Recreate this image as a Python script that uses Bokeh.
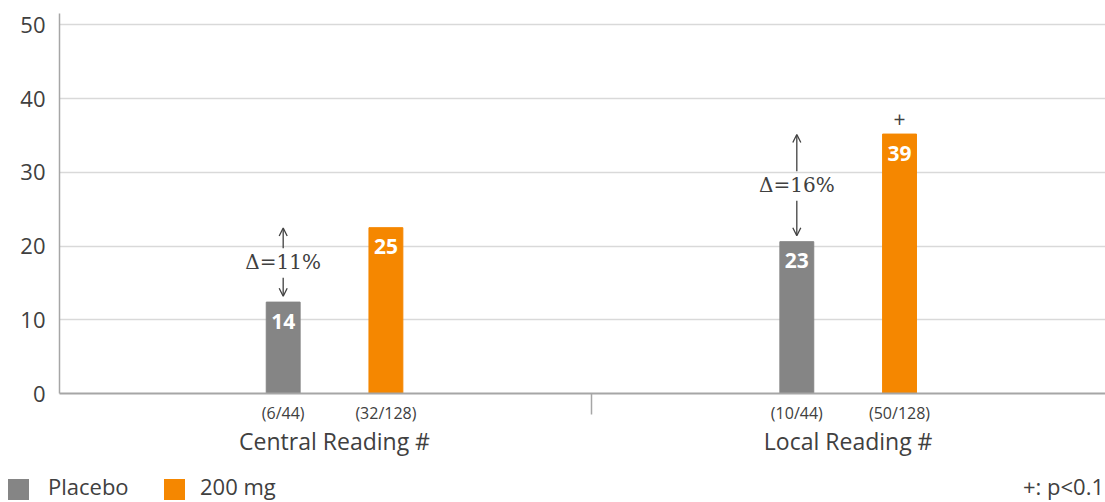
from bokeh.plotting import figure
from bokeh.models import Range1d, FixedTicker, LinearAxis, Arrow, OpenHead, ColumnDataSource, Div
from bokeh.layouts import column
from bokeh.core.properties import value
from bokeh.embed import file_html
from bokeh.resources import INLINE

# ---- data ----
categories = ["Central Reading #", "Local Reading #"]
placebo_vals = [12.4, 20.6]
dose_vals = [22.5, 35.2]
placebo_labels = ["14", "23"]
dose_labels = ["25", "39"]
placebo_n = ["(6/44)", "(10/44)"]
dose_n = ["(32/128)", "(50/128)"]
delta_labels = ["\u0394=11%", "\u0394=16%"]
sig_marks = ["", "+"]
y_ticks = [0, 10, 20, 30, 40, 50]
series_names = ["Placebo", "200 mg"]
footnote = "+: p<0.1"

GREY = "#858585"
ORANGE = "#F58700"
TXT = "#404040"
AXC = "#a6a6a6"
FONT = value("Open Sans")

# group layout (group centres at 0, 10; bars at -1 / +1)
group_x = [10 * i for i in range(len(categories))]
placebo_x = [g - 1 for g in group_x]
dose_x = [g + 1 for g in group_x]

p = figure(frame_width=1046, frame_height=380,
           x_range=Range1d(-5.355, 15.01), y_range=Range1d(0, 51.56),
           output_backend="svg", toolbar_location=None,
           min_border_left=59, min_border_right=0, min_border_top=13, min_border_bottom=77)
p.outline_line_color = None
p.xgrid.visible = False
p.ygrid.grid_line_color = "#d9d9d9"
p.ygrid.grid_line_width = 1.5
p.ygrid.ticker = FixedTicker(ticks=y_ticks)

ya = p.yaxis[0]
ya.ticker = FixedTicker(ticks=y_ticks)
ya.major_tick_out = 0
ya.major_tick_in = 0
ya.minor_tick_out = 0
ya.minor_tick_in = 0
ya.axis_line_color = AXC
ya.axis_line_width = 1.5
ya.major_label_text_font = "Open Sans"
ya.major_label_text_font_size = "22px"
ya.major_label_text_color = TXT
ya.major_label_standoff = 14

xa = p.xaxis[0]
bar_ticks = placebo_x + dose_x
overrides = {}
for i in range(len(categories)):
    overrides[placebo_x[i]] = placebo_n[i]
    overrides[dose_x[i]] = dose_n[i]
xa.ticker = FixedTicker(ticks=bar_ticks, minor_ticks=[5])
xa.major_label_overrides = overrides
xa.major_tick_out = 0
xa.major_tick_in = 0
xa.minor_tick_out = 21
xa.minor_tick_in = 0
xa.minor_tick_line_color = AXC
xa.minor_tick_line_width = 1.5
xa.axis_line_color = AXC
xa.axis_line_width = 2
xa.major_label_text_font = "Open Sans"
xa.major_label_text_font_size = "16px"
xa.major_label_text_color = TXT
xa.major_label_standoff = -13

xa2 = LinearAxis(ticker=FixedTicker(ticks=group_x),
                 major_label_overrides={g: c for g, c in zip(group_x, categories)})
xa2.axis_line_color = None
xa2.major_tick_line_color = None
xa2.minor_tick_line_color = None
xa2.major_tick_out = 0
xa2.major_label_text_font = "Open Sans"
xa2.major_label_text_font_size = "23px"
xa2.major_label_text_color = TXT
xa2.major_label_standoff = -2
p.add_layout(xa2, "below")

src = ColumnDataSource(dict(
    px=placebo_x, dx=dose_x, pv=placebo_vals, dv=dose_vals,
    pl=placebo_labels, dl=dose_labels, delta=delta_labels, sig=sig_marks,
    ty=[(a + b) / 2 + 0.45 for a, b in zip(placebo_vals, dose_vals)],
))
src.data["up_start"] = [t + 1.8 for t in src.data["ty"]]
src.data["up_end"] = [d - 0.05 for d in dose_vals]
src.data["dn_start"] = [t - 2.2 for t in src.data["ty"]]
src.data["dn_end"] = [v + 0.8 for v in placebo_vals]

p.vbar(x="px", top="pv", width=0.66, color=GREY, source=src)
p.vbar(x="dx", top="dv", width=0.66, color=ORANGE, source=src)

for xcol, ycol, tcol in (("px", "pv", "pl"), ("dx", "dv", "dl")):
    p.text(x=xcol, y=ycol, text=tcol, source=src, text_color="white",
           text_font=FONT, text_font_style="bold", text_font_size="21px",
           text_align="center", text_baseline="middle", y_offset=19)

p.text(x="px", y="ty", text="delta", source=src, text_color=TXT,
       text_font=value("DejaVu Serif"), text_font_size="20px",
       text_align="center", text_baseline="middle")
p.text(x="dx", y="dv", text="sig", source=src, text_color=TXT,
       text_font=FONT, text_font_size="21px",
       text_align="center", text_baseline="middle", y_offset=-15)

p.add_layout(Arrow(end=OpenHead(size=8, line_color=TXT, line_width=1.3),
                   x_start="px", y_start="up_start", x_end="px", y_end="up_end",
                   line_color=TXT, line_width=1.3, source=src))
p.add_layout(Arrow(end=OpenHead(size=8, line_color=TXT, line_width=1.3),
                   x_start="px", y_start="dn_start", x_end="px", y_end="dn_end",
                   line_color=TXT, line_width=1.3, source=src))

# ---- legend row ----
sq_left = [8, 164]
txt_left = [48, 200]
colors = [GREY, ORANGE]
parts = []
for name, c, sl, tl in zip(series_names, colors, sq_left, txt_left):
    parts.append(f'<span style="position:absolute;left:{sl}px;top:9px;width:21px;height:21px;background:{c};"></span>')
    parts.append(f'<span style="position:absolute;left:{tl}px;top:1px;line-height:30px;white-space:nowrap;">{name}</span>')
parts.append(f'<span style="position:absolute;right:1px;top:1px;line-height:30px;white-space:nowrap;">{footnote}</span>')
legend_html = ('<div style="position:relative;width:1105px;height:32px;font-family:\'Open Sans\';'
               f'font-size:22px;color:{TXT};">' + "".join(parts) + '</div>')
leg = Div(text=legend_html, width=1105, height=32, margin=(0, 0, 0, 0))

layout = column(p, leg, spacing=0)
open("out.html", "w").write(file_html(layout, INLINE))
